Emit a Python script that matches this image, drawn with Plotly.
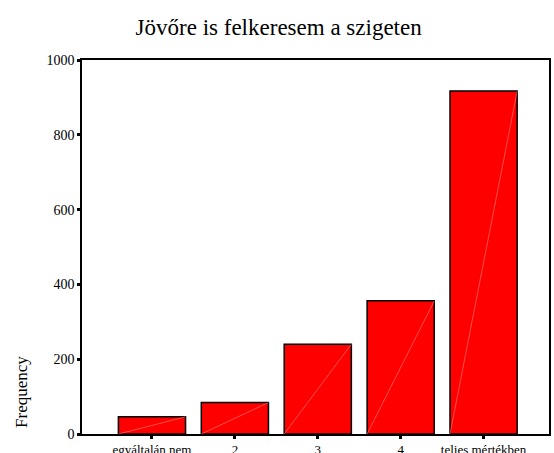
import plotly.graph_objects as go

categories = ["egyáltalán nem", "2", "3", "4", "teljes mértékben"]
frequencies = [46, 84, 240, 356, 917]
y_ticks = [0, 200, 400, 600, 800, 1000]

positions = list(range(len(categories)))
bar_width = 0.81

fig = go.Figure()
fig.add_trace(go.Bar(
    x=positions, y=frequencies, width=bar_width,
    marker=dict(color="#ff0000", line=dict(color="black", width=1.5)),
    hoverinfo="skip", showlegend=False,
))

# faint diagonal lines inside bars (rendering artifact of the original)
dx, dy = [], []
for p, v in zip(positions, frequencies):
    dx += [p - bar_width / 2, p + bar_width / 2, None]
    dy += [0, v, None]
fig.add_trace(go.Scatter(
    x=dx, y=dy, mode="lines",
    line=dict(color="rgba(255,140,140,0.8)", width=0.7),
    hoverinfo="skip", showlegend=False,
))

fig.update_layout(
    width=554, height=453,
    margin=dict(l=82, r=5, t=60, b=19, autoexpand=False),
    paper_bgcolor="white", plot_bgcolor="white",
    font=dict(family="Liberation Serif, Times New Roman, serif", color="black"),
    title=dict(text="Jövőre is felkeresem a szigeten", x=0.503, xanchor="center",
               xref="container", y=0.94, yanchor="middle",
               font=dict(size=23, family="Liberation Serif, serif", color="black")),
    xaxis=dict(
        range=[-0.844, 4.789], tickvals=positions, ticktext=categories,
        showgrid=False, zeroline=False, showline=True, linecolor="black",
        linewidth=1.5, mirror=True, ticks="outside", ticklen=3, tickwidth=3,
        tickcolor="black", tickfont=dict(size=13), fixedrange=True,
        automargin=False,
    ),
    yaxis=dict(
        range=[0, 1000], tickvals=y_ticks, ticktext=[str(t) for t in y_ticks],
        showgrid=False, zeroline=False, showline=True, linecolor="black",
        linewidth=1.5, mirror=True, ticks="outside", ticklen=3, tickwidth=3,
        tickcolor="black", tickfont=dict(size=14), fixedrange=True,
        automargin=False,
    ),
    annotations=[dict(
        text="Frequency", xref="paper", yref="paper", x=-0.131, y=0.112,
        xanchor="center", yanchor="middle", textangle=-90, showarrow=False,
        font=dict(size=17, family="Liberation Serif, serif", color="black"),
    )],
)

fig.write_html(
    "out.html",
    config={"displayModeBar": False},
    post_script="document.body.style.margin='0';document.body.style.overflow='hidden';",
)
